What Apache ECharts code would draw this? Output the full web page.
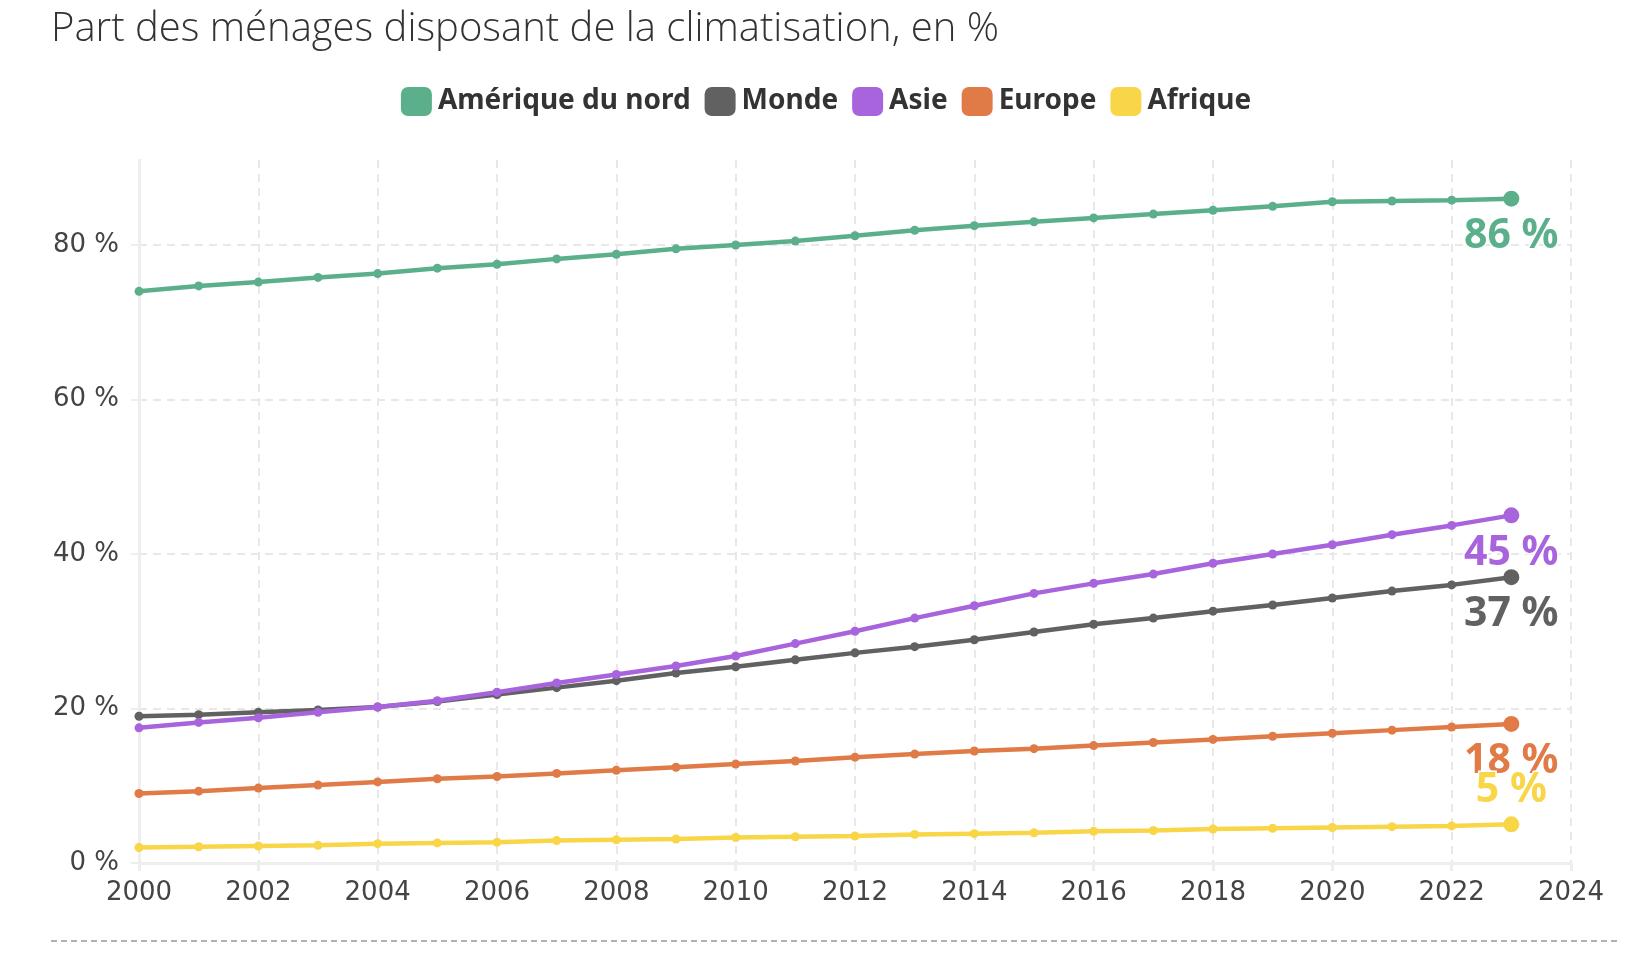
<!DOCTYPE html>
<html>
<head>
<meta charset="utf-8">
<script src="https://cdn.jsdelivr.net/npm/echarts@6/dist/echarts.min.js"></script>
<style>
html,body{margin:0;padding:0;background:#fff;}
#chart{width:1652px;height:956px;}
</style>
</head>
<body>
<div id="chart"></div>
<script>
// années et valeurs (en %)
const years = [2000,2001,2002,2003,2004,2005,2006,2007,2008,2009,2010,2011,2012,2013,2014,2015,2016,2017,2018,2019,2020,2021,2022,2023]
const ameriqueNord = [74.0,74.7,75.2,75.8,76.3,77.0,77.5,78.2,78.8,79.5,80.0,80.5,81.2,81.9,82.5,83.0,83.5,84.0,84.5,85.0,85.6,85.7,85.8,86.0]
const monde = [19.0,19.2,19.5,19.8,20.2,20.9,21.8,22.7,23.6,24.6,25.4,26.3,27.2,28.0,28.9,29.9,30.9,31.7,32.6,33.4,34.3,35.2,36.0,37.0]
const asie = [17.5,18.2,18.8,19.5,20.2,21.0,22.1,23.3,24.4,25.5,26.8,28.4,30.0,31.7,33.3,34.9,36.2,37.4,38.8,40.0,41.2,42.5,43.7,45.0]
const europe = [9.0,9.3,9.7,10.1,10.5,10.9,11.2,11.6,12.0,12.4,12.8,13.2,13.7,14.1,14.5,14.8,15.2,15.6,16.0,16.4,16.8,17.2,17.6,18.0]
const afrique = [2.0,2.1,2.2,2.3,2.5,2.6,2.7,2.9,3.0,3.1,3.3,3.4,3.5,3.7,3.8,3.9,4.1,4.2,4.4,4.5,4.6,4.7,4.8,5.0]

const seriesDefs = [
    {name:'Amérique du nord', data:ameriqueNord, color:'#5bb08b', labelPos:'bottom'},
    {name:'Monde', data:monde, color:'#616161', labelPos:'bottom'},
    {name:'Asie', data:asie, color:'#a864dd', labelPos:'bottom'},
    {name:'Europe', data:europe, color:'#e07b47', labelPos:'bottom'},
    {name:'Afrique', data:afrique, color:'#f8d648', labelPos:'top'},
]

const E = echarts.init(document.getElementById('chart'))

const series = seriesDefs.map(def => {
    const last = def.data.length - 1
    return {
        name:def.name,
        type:'line',
        color:def.color,
        symbol:'circle',
        symbolSize:9,
        lineStyle:{width:4.5},
        itemStyle:{color:def.color},
        emphasis:{disabled:true},
        z: def.name === 'Asie' ? 4 : 3,
        data:def.data.map((v,i) => {
            if(i !== last) return [years[i], v]
            return {
                value:[years[i], v],
                symbolSize:16,
                label:{
                    show:true,
                    position:def.labelPos,
                    distance:def.labelPos === 'top' ? 6 : 9,
                    formatter:Math.round(v) + ' %',
                    color:def.color,
                    fontFamily:'Noto Sans',
                    fontWeight:'bold',
                    fontSize:41,
                    textBorderColor:'#fff',
                    textBorderWidth:3,
                }
            }
        })
    }
})

const option = {
    animation:false,
    title:{
        text:'Part des ménages disposant de la climatisation, en %',
        left:46,
        top:5,
        textStyle:{
            fontFamily:'Open Sans',
            fontWeight:300,
            fontSize:40,
            color:'#333',
        }
    },
    legend:{
        top:82,
        left:'center',
        icon:'roundRect',
        itemWidth:31,
        itemHeight:29,
        itemGap:14,
        textStyle:{
            fontFamily:'Noto Sans',
            fontWeight:'bold',
            fontSize:28,
            color:'#333',
            padding:[0,0,0,1],
        },
        selectedMode:false,
    },
    grid:{
        left:139,
        right:81,
        top:160,
        bottom:93,
    },
    xAxis:{
        type:'value',
        min:2000,
        max:2024,
        interval:2,
        axisLine:{show:true, lineStyle:{color:'#eeeeee', width:3}},
        axisTick:{show:true, length:8, lineStyle:{color:'#eeeeee', width:3}},
        axisLabel:{
            formatter:v => String(v),
            fontFamily:'DejaVu Sans',
            fontSize:26,
            color:'#444',
            margin:17,
        },
        splitLine:{show:true, lineStyle:{color:'#e8e8e8', type:[8,6], width:2}},
    },
    yAxis:{
        type:'value',
        min:0,
        max:91,
        interval:20,
        axisLine:{show:true, lineStyle:{color:'#eeeeee', width:3}},
        axisTick:{show:true, length:8, lineStyle:{color:'#eeeeee', width:2}},
        axisLabel:{
            formatter:v => v + ' %',
            fontFamily:'DejaVu Sans',
            fontSize:26,
            color:'#444',
            margin:20,
            showMaxLabel:false,
        },
        splitLine:{show:true, showMaxLine:false, lineStyle:{color:'#e8e8e8', type:[8,6], width:2}},
    },
    graphic:[
        {
            type:'line',
            shape:{x1:51, y1:941, x2:1620, y2:941},
            style:{stroke:'#999', lineWidth:1.5, lineDash:[6,4]},
        }
    ],
    series
}
E.setOption(option)
</script>
</body>
</html>
